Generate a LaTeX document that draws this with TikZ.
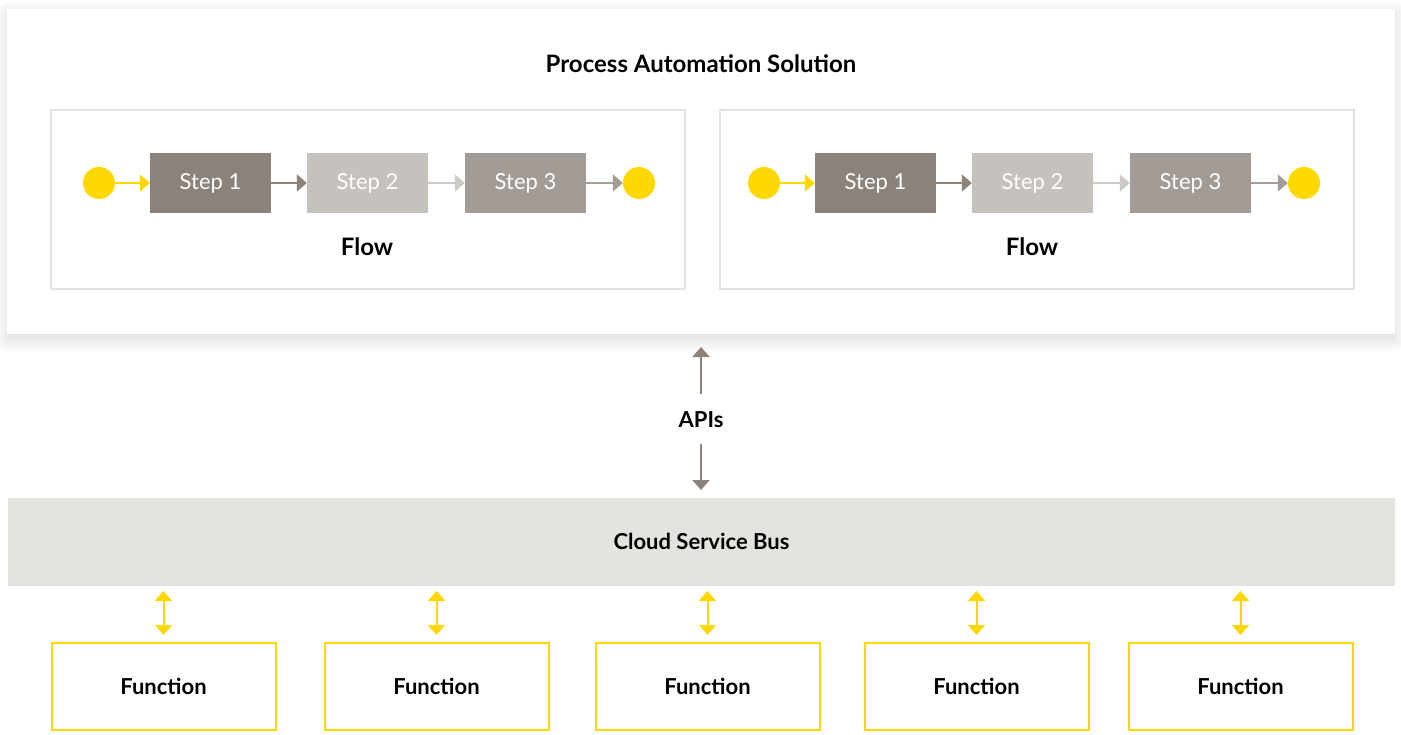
\documentclass[tikz,border=0pt]{standalone}
\usepackage{fontspec}
\setmainfont{Lato}
\usetikzlibrary{arrows.meta,shadows.blur}
\definecolor{yel}{HTML}{FFD800}
\definecolor{sOne}{HTML}{8A827B}
\definecolor{sTwo}{HTML}{C5C2BD}
\definecolor{sThree}{HTML}{A39C96}
\definecolor{frame}{HTML}{E3E3DF}
\definecolor{busc}{HTML}{E4E4DF}
\definecolor{apic}{HTML}{8A827B}
\tikzset{
  x=1pt,y=-1pt,
  stepbox/.style={minimum width=121pt,minimum height=60pt,inner sep=0pt,text=white,font=\fontsize{22}{26}\selectfont},
  dot/.style={circle,fill=yel,minimum size=32pt,inner sep=0pt},
  flowframe/.style={draw=frame,line width=2pt},
  fnbox/.style={draw=yel,line width=2pt,minimum width=224pt,minimum height=87pt,inner sep=0pt,font=\bfseries\fontsize{22}{26}\selectfont},
  arr/.style={line width=2pt,-{Triangle[length=10pt,width=17pt]}},
  darr/.style={line width=2pt,{Triangle[length=10pt,width=17pt]}-{Triangle[length=10pt,width=17pt]}},
  lbl/.style={font=\bfseries\fontsize{22}{26}\selectfont},
}
\begin{document}
\begin{tikzpicture}
\useasboundingbox (0,0) rectangle (1401,734);
% outer panel
\node[fill=white,minimum width=1388pt,minimum height=325pt,inner sep=0pt,
  blur shadow={shadow xshift=0pt,shadow yshift=-5pt,shadow blur radius=14pt,shadow blur steps=14,shadow opacity=16}]
  (panel) at (701,171.5) {};
\node[font=\bfseries\fontsize{24}{28}\selectfont] (title) at (701,64) {Process Automation Solution};
% flows
\node[flowframe,minimum width=634pt,minimum height=179pt,inner sep=0pt] (frL) at (368,199.5) {};
\node[flowframe,minimum width=634pt,minimum height=179pt,inner sep=0pt] (frR) at (1037,199.5) {};
\foreach \ox/\nm in {0/L,665/R}{
  \begin{scope}[xshift=\ox pt]
  \node[dot] (a\nm) at (99,183) {};
  \node[stepbox,fill=sOne] (s1\nm) at (210.5,183) {Step 1};
  \node[stepbox,fill=sTwo] (s2\nm) at (367.5,183) {Step 2};
  \node[stepbox,fill=sThree] (s3\nm) at (525.5,183) {Step 3};
  \node[dot] (b\nm) at (639,183) {};
  \node[font=\fontsize{24}{28}\selectfont\bfseries] (fl\nm) at (367,247) {Flow};
  \draw[arr,draw=yel,fill=yel] (a\nm) -- (s1\nm);
  \draw[arr,draw=sOne,fill=sOne] (s1\nm) -- (s2\nm);
  \draw[arr,draw=sTwo!85!white,fill=sTwo] (s2\nm) -- (s3\nm);
  \draw[arr,draw=sThree,fill=sThree] (s3\nm) -- (b\nm);
  \end{scope}
}
% APIs
\node[lbl] (api) at (701,420) {APIs};
\coordinate (apiTop) at (701,347);
\coordinate (apiBot) at (701,490);
\draw[arr,draw=apic,fill=apic] (701,394) -- (apiTop);
\draw[arr,draw=apic,fill=apic] (701,444) -- (apiBot);
% bus
\node[fill=busc,minimum width=1387pt,minimum height=88pt,inner sep=0pt] (bus) at (701.5,542) {};
\node[lbl] (bust) at (701.5,541) {Cloud Service Bus};
% functions
\foreach \cx/\i in {163.5/1,436.5/2,707.5/3,976.5/4,1240.5/5}{
  \node[fnbox] (f\i) at (\cx,686) {Function};
  \draw[darr,draw=yel] (\cx,591) -- (f\i.north |- 0,635);
}
\end{tikzpicture}
\end{document}
